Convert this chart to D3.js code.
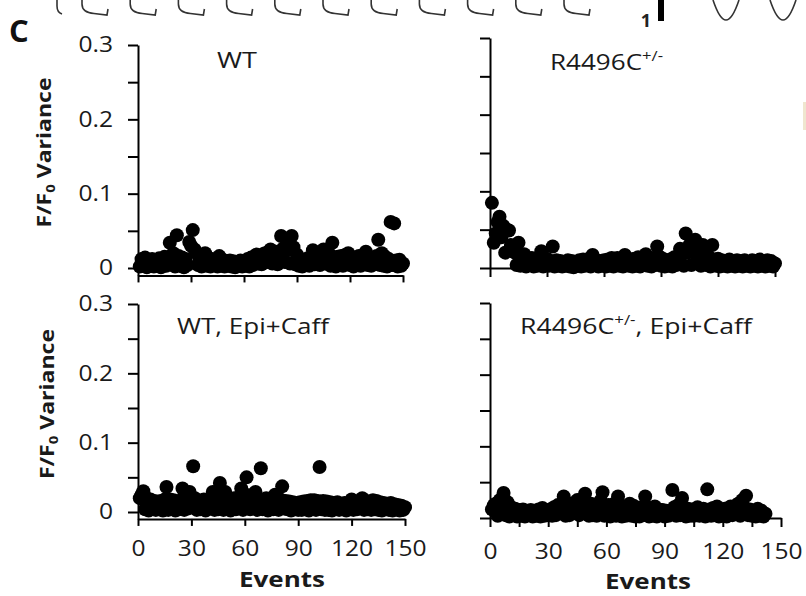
<!DOCTYPE html>
<html><head><meta charset="utf-8">
<script src="https://cdn.jsdelivr.net/npm/d3@7"></script>
<style>body{margin:0;background:#fff}</style>
</head><body>
<svg id="c" width="806" height="596"></svg>
<script>
// ---------- DATA (F/F0 variance per event, events 1..n) ----------
const wtVariance = [
 .002,.012,.004,.014,.001,.010,.003,.012,.002,.009,.004,.013,.001,.011,.015,
 .003,.014,.034,.005,.020,.002,.044,.016,.003,.014,.001,.012,.004,.035,.030,
 .051,.025,.020,.004,.012,.002,.010,.020,.003,.011,.002,.012,.004,.010,.002,
 .016,.003,.011,.002,.009,.003,.010,.002,.009,.001,.008,.003,.010,.002,.009,
 .003,.012,.002,.014,.004,.016,.018,.006,.015,.005,.019,.020,.008,.022,.025,
 .006,.021,.022,.005,.015,.043,.026,.008,.030,.024,.006,.043,.028,.005,.018,
 .003,.012,.002,.010,.004,.013,.003,.015,.024,.005,.018,.020,.004,.016,.025,
 .006,.014,.020,.003,.034,.011,.002,.015,.004,.016,.003,.017,.005,.020,.004,
 .013,.002,.014,.004,.016,.003,.012,.018,.022,.004,.015,.003,.013,.005,.016,
 .038,.004,.020,.003,.015,.002,.012,.062,.004,.060,.010,.002,.011,.003,.006
];
const r4496cVariance = [
 .085,.033,.045,.060,.067,.040,.055,.020,.050,.049,.030,.025,.020,.004,.033,
 .003,.015,.018,.002,.012,.004,.013,.002,.010,.003,.009,.022,.002,.010,.012,
 .003,.009,.028,.002,.010,.003,.009,.002,.008,.003,.010,.002,.009,.001,.008,
 .003,.010,.002,.011,.003,.009,.012,.002,.017,.004,.010,.002,.009,.003,.010,
 .002,.011,.003,.013,.002,.010,.013,.003,.012,.002,.017,.010,.003,.011,.002,
 .012,.003,.014,.002,.010,.004,.018,.003,.012,.002,.013,.004,.028,.015,.003,
 .012,.002,.010,.003,.011,.002,.014,.004,.010,.025,.018,.003,.045,.020,.030,
 .004,.022,.037,.016,.025,.003,.030,.019,.004,.015,.002,.030,.011,.003,.012,
 .002,.010,.003,.009,.002,.011,.003,.008,.002,.010,.003,.009,.002,.010,.003,
 .008,.002,.010,.003,.009,.002,.011,.003,.008,.002,.010,.003,.009,.002,.006
];
const wtEpiCaffVariance = [
 .020,.025,.030,.004,.020,.002,.018,.005,.016,.003,.015,.004,.016,.002,.018,
 .036,.003,.018,.005,.017,.002,.014,.004,.017,.034,.003,.020,.005,.029,.015,
 .066,.020,.003,.016,.004,.014,.018,.002,.015,.005,.019,.029,.003,.017,.004,
 .042,.020,.003,.029,.005,.018,.002,.015,.020,.004,.017,.022,.034,.003,.016,
 .050,.024,.004,.018,.020,.029,.003,.017,.063,.004,.016,.020,.002,.016,.019,
 .004,.025,.015,.003,.018,.037,.005,.016,.004,.015,.002,.014,.004,.013,.003,
 .014,.003,.015,.004,.016,.002,.017,.005,.017,.003,.016,.065,.004,.016,.003,
 .015,.003,.014,.002,.013,.005,.014,.003,.012,.004,.013,.002,.012,.004,.018,
 .003,.015,.004,.014,.017,.020,.003,.016,.004,.015,.003,.017,.004,.016,.003,
 .014,.002,.013,.004,.012,.003,.013,.002,.011,.004,.010,.002,.009,.003,.007
];
const r4496cEpiCaffVariance = [
 .012,.018,.020,.003,.025,.015,.035,.004,.022,.002,.015,.004,.013,.002,.011,
 .003,.012,.002,.010,.004,.011,.002,.010,.003,.012,.002,.014,.003,.010,.004,
 .012,.003,.015,.004,.018,.013,.020,.030,.003,.016,.004,.020,.014,.022,.025,
 .004,.019,.012,.034,.016,.003,.020,.004,.018,.003,.015,.024,.036,.003,.012,
 .018,.002,.015,.020,.003,.030,.013,.002,.016,.003,.014,.020,.003,.017,.002,
 .013,.002,.015,.004,.030,.012,.002,.014,.003,.016,.002,.012,.004,.011,.002,
 .010,.003,.008,.039,.015,.003,.018,.004,.028,.014,.002,.013,.003,.012,.003,
 .010,.015,.003,.006,.013,.002,.040,.012,.003,.014,.004,.016,.002,.012,.003,
 .013,.002,.011,.016,.004,.014,.018,.020,.003,.025,.015,.031,.004,.012,.003,
 .009,.002,.013,.003,.010,.002,.006
];
const xTicksMajor = [0,30,60,90,120,150];
const xTicksFine  = [0,15,30,45,60,75,90,105,120,135,150];
const yTicksAll   = [0,0.05,0.1,0.15,0.2,0.25,0.3];
const yTickLabels = [0,0.1,0.2,0.3];
const yLabelText = ["F/F", "0", " Variance"];
const xLabelText = "Events";

// ---------- LAYOUT ----------
const FONT = "'Open Sans','Liberation Sans',sans-serif";
const svg = d3.select("#c");
const panels = [
  {data: wtVariance, x0:138, x1:403, yTop:45, yZero:268, below:true, yLab:true, xLab:false, xt:xTicksMajor,
   title:["WT"], tx:217, ty:68, tlen:40},
  {data: r4496cVariance, x0:490, x1:775, yTop:38, yZero:268, below:false, yLab:false, xLab:false, xt:xTicksMajor,
   title:["R4496C","+/-"], tx:550, ty:70, tlen:113},
  {data: wtEpiCaffVariance, x0:138, x1:405, yTop:304, yZero:512, below:true, yLab:true, xLab:true, xt:xTicksMajor,
   title:["WT, Epi+Caff"], tx:177, ty:334, tlen:152, xpad:15, evx:282, evy:587},
  {data: r4496cEpiCaffVariance, x0:490, x1:781, yTop:303, yZero:518, below:false, yLab:false, xLab:true, xt:xTicksFine,
   title:["R4496C","+/-",", Epi+Caff"], tx:520, ty:334, tlen:232, xpad:17, evx:648, evy:589}
];

function styleAxis(g){
  g.selectAll("path.domain").attr("stroke","#000").attr("stroke-width",2);
  g.selectAll(".tick line").attr("stroke","#000").attr("stroke-width",2);
  g.selectAll(".tick text").attr("fill","#1a1a1a").attr("font-family",FONT).attr("font-size",21);
}
const STRETCH = 1.17;
function stretchText(sel){
  sel.each(function(){
    const L = this.getComputedTextLength();
    if (L>0) d3.select(this).attr("textLength", L*STRETCH).attr("lengthAdjust","spacingAndGlyphs");
  });
}

panels.forEach(p => {
  const x = d3.scaleLinear().domain([0,150]).range([p.x0, p.x1]);
  const ext = p.below ? (p.yZero - p.yTop)/30 : 0;
  const y = d3.scaleLinear().domain([p.below ? -0.01 : 0, 0.3]).range([p.yZero + ext, p.yTop]);
  const yBase = y.range()[0];

  const gy = svg.append("g").attr("transform",`translate(${p.x0},0)`)
    .call(d3.axisLeft(y).tickValues(yTicksAll).tickSize(10).tickSizeOuter(0).tickPadding(15)
      .tickFormat(d => p.yLab && yTickLabels.includes(d) ? d3.format("")(d) : ""));
  styleAxis(gy);
  stretchText(gy.selectAll(".tick text"));

  const gx = svg.append("g").attr("transform",`translate(0,${yBase})`)
    .call(d3.axisBottom(x).tickValues(p.xt).tickSize(p.below?7:9).tickSizeOuter(0).tickPadding(p.xpad||8)
      .tickFormat(d => p.xLab && xTicksMajor.includes(d) ? d : ""));
  styleAxis(gx);
  stretchText(gx.selectAll(".tick text"));

  svg.append("g").selectAll("circle").data(p.data).join("circle")
    .attr("cx", (d,i) => x(i+1)).attr("cy", d => y(d)).attr("r", 7).attr("fill","#000");

  const t = svg.append("text").attr("x",p.tx).attr("y",p.ty)
    .attr("font-family",FONT).attr("font-size",22).attr("fill","#1a1a1a");
  p.title.forEach((s,k) => {
    const ts = t.append("tspan").text(s);
    if (k===1) ts.attr("font-size",14).attr("dy",-9);
    else if (k===2) ts.attr("dy",9);
  });
  t.attr("textLength",p.tlen).attr("lengthAdjust","spacingAndGlyphs");

  if (p.yLab) {
    const ly = (p.yTop + p.yZero)/2 - 4;
    const lx = p.yTop>200 ? 54 : 51;
    const yl = svg.append("text").attr("transform",`translate(${lx},${ly}) rotate(-90)`)
      .attr("text-anchor","middle").attr("font-family",FONT).attr("font-weight","bold")
      .attr("font-size",20).attr("fill","#1a1a1a");
    yl.append("tspan").text(yLabelText[0]);
    yl.append("tspan").text(yLabelText[1]).attr("font-size",13).attr("dy",4);
    yl.append("tspan").text(yLabelText[2]).attr("dy",-4);
    yl.attr("textLength",150).attr("lengthAdjust","spacingAndGlyphs");
  }
  if (p.xLab) {
    svg.append("text").attr("x",p.evx).attr("y",p.evy).attr("text-anchor","middle")
      .attr("font-family",FONT).attr("font-weight","bold").attr("font-size",21).attr("fill","#1a1a1a")
      .text(xLabelText).attr("textLength",86).attr("lengthAdjust","spacingAndGlyphs");
  }
});

svg.append("text").attr("x",9).attr("y",42).attr("font-family",FONT).attr("font-weight","bold")
  .attr("font-size",31).attr("fill","#111").text("C");

// ---------- cropped strip from the panel above ----------
const strip = svg.append("g").attr("fill","none").attr("stroke","#333").attr("stroke-width",1.6);
const cellX = d3.scaleLinear().domain([0,10]).range([82,564]);
d3.range(11).forEach(i => {
  const a = cellX(i);
  strip.append("path").attr("d",
    `M${a},0 L${a},4 C${a},11 ${a+5},13 ${a+12},13.5 L${a+25},15 L${a+26},9`);
});
strip.append("path").attr("d","M57,0 L57,6 C57,10 59,13 62,14");
const vx = d3.scaleLinear().domain([0,1]).range([713,770]);
[0,1].forEach(i => {
  const a = vx(i);
  strip.append("path").attr("d",`M${a},0 C${a+4},12 ${a+9},20 ${a+13},20 C${a+17},20 ${a+22},12 ${a+26},0`);
});
svg.append("text").attr("x",646).attr("y",27).attr("text-anchor","middle").attr("font-family",FONT)
  .attr("font-size",18).attr("font-weight","bold").attr("fill","#222").text("1");
svg.append("rect").attr("x",658).attr("y",0).attr("width",6).attr("height",21).attr("fill","#000");
svg.append("rect").attr("x",803).attr("y",102).attr("width",3).attr("height",28).attr("fill","#efe6cf");
</script>
</body></html>
